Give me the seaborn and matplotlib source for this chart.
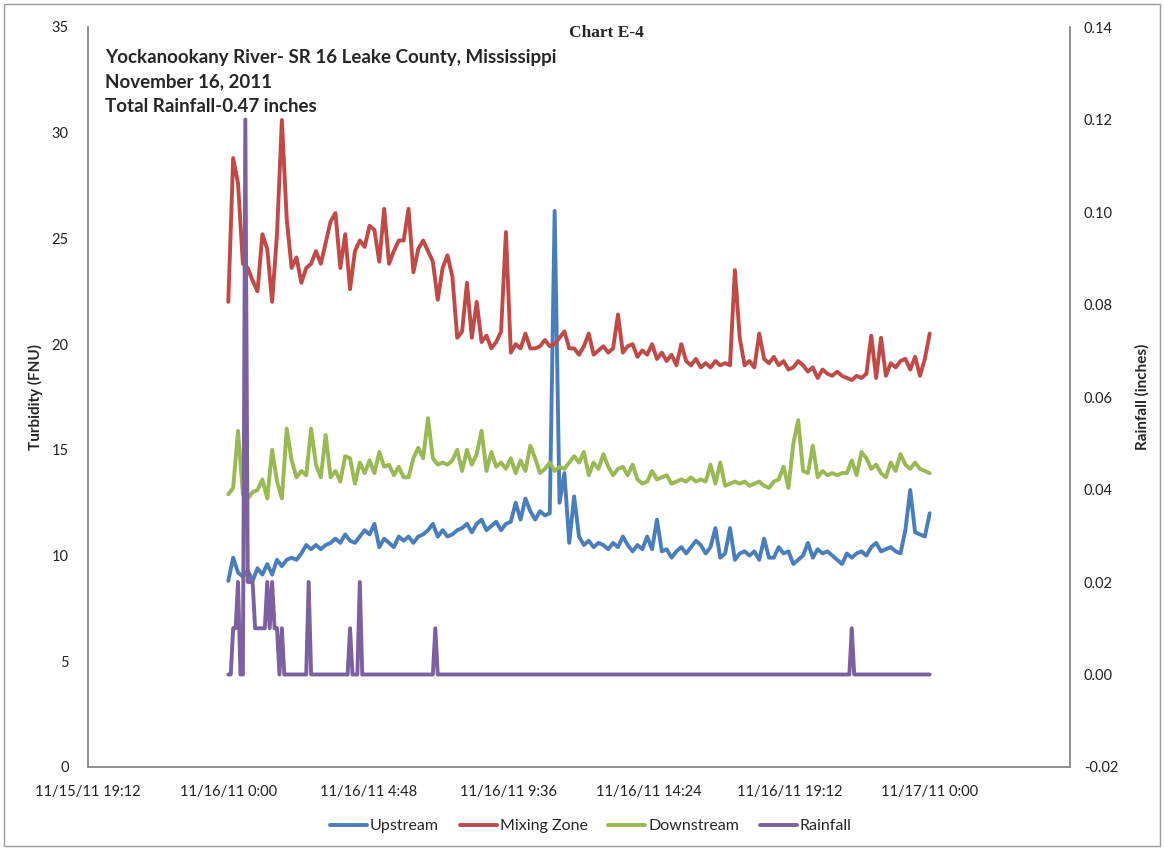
import numpy as np
import pandas as pd
import matplotlib
matplotlib.use("Agg")
import matplotlib.pyplot as plt
from matplotlib.lines import Line2D
from matplotlib.patches import Rectangle
import seaborn as sns

# ---- data: turbidity logged every 10 minutes on 11/16/2011 ----
start = pd.Timestamp("2011-11-16 00:00")
turb_times = pd.date_range(start, periods=145, freq="10min")

upstream = [
    8.8, 9.9, 9.2, 9.0, 9.3, 8.8, 9.4, 9.1, 9.6, 9.1,
    9.8, 9.5, 9.8, 9.9, 9.8, 10.1, 10.5, 10.3, 10.5, 10.3,
    10.5, 10.6, 10.8, 10.6, 11.0, 10.7, 10.6, 10.9, 11.2, 11.0,
    11.5, 10.4, 10.8, 10.6, 10.4, 10.9, 10.7, 10.9, 10.6, 10.9,
    11.0, 11.2, 11.5, 10.9, 11.2, 10.9, 11.0, 11.2, 11.3, 11.5,
    11.1, 11.5, 11.7, 11.2, 11.4, 11.6, 11.2, 11.5, 11.6, 12.5,
    11.7, 12.7, 12.1, 11.7, 12.1, 11.9, 12.0, 26.3, 12.5, 13.9,
    10.6, 12.8, 10.9, 10.5, 10.7, 10.4, 10.6, 10.5, 10.3, 10.6,
    10.4, 10.9, 10.5, 10.2, 10.5, 10.3, 10.9, 10.3, 11.7, 10.2,
    10.3, 9.9, 10.2, 10.4, 10.1, 10.4, 10.7, 10.5, 10.1, 10.4,
    11.3, 9.9, 10.1, 11.3, 9.8, 10.1, 10.2, 10.0, 10.2, 9.8,
    10.8, 9.9, 9.9, 10.4, 10.1, 10.2, 9.6, 9.8, 10.0, 10.6,
    9.9, 10.3, 10.1, 10.2, 10.0, 9.8, 9.6, 10.1, 9.9, 10.1,
    10.2, 10.0, 10.4, 10.6, 10.2, 10.3, 10.4, 10.2, 10.1, 11.2,
    13.1, 11.1, 11.0, 10.9, 12.0,
]

mixing_zone = [
    22.0, 28.8, 27.6, 23.8, 23.6, 23.0, 22.5, 25.2, 24.5, 22.0,
    25.2, 30.6, 25.9, 23.6, 24.1, 22.9, 23.6, 23.8, 24.4, 23.8,
    24.8, 25.8, 26.2, 23.6, 25.2, 22.6, 24.4, 24.9, 24.6, 25.6,
    25.4, 23.9, 26.4, 23.8, 24.4, 24.9, 24.9, 26.4, 23.4, 24.5,
    24.9, 24.4, 23.9, 22.1, 23.6, 24.2, 23.2, 20.3, 20.6, 22.9,
    20.3, 22.0, 20.1, 20.4, 19.8, 20.1, 20.6, 25.3, 19.6, 20.0,
    19.8, 20.5, 19.8, 19.8, 19.9, 20.2, 19.9, 20.0, 20.3, 20.6,
    19.8, 19.8, 19.5, 19.9, 20.5, 19.5, 19.7, 19.9, 19.6, 19.8,
    21.4, 19.6, 19.9, 20.0, 19.4, 19.7, 19.5, 20.0, 19.3, 19.6,
    19.2, 19.5, 19.0, 20.0, 19.2, 19.0, 19.3, 18.9, 19.1, 18.9,
    19.2, 19.0, 19.1, 19.0, 23.5, 20.3, 19.0, 19.2, 18.9, 20.5,
    19.3, 19.1, 19.4, 19.0, 19.2, 18.8, 18.9, 19.2, 19.0, 18.7,
    18.9, 18.4, 18.8, 18.6, 18.5, 18.7, 18.5, 18.4, 18.3, 18.5,
    18.4, 18.6, 20.4, 18.4, 20.3, 18.5, 19.1, 18.9, 19.2, 19.3,
    18.8, 19.4, 18.5, 19.3, 20.5,
]

downstream = [
    12.9, 13.2, 15.9, 12.9, 12.7, 13.0, 13.1, 13.6, 12.7, 15.0,
    13.5, 12.7, 16.0, 14.5, 13.7, 14.0, 13.8, 16.0, 14.3, 13.7,
    15.7, 13.7, 14.0, 13.5, 14.7, 14.6, 13.4, 14.4, 13.9, 14.5,
    13.9, 14.9, 14.2, 14.3, 13.8, 14.2, 13.7, 13.7, 14.6, 15.1,
    14.6, 16.5, 14.6, 14.3, 14.4, 14.3, 14.5, 15.0, 14.0, 15.0,
    14.3, 14.8, 15.9, 14.0, 14.9, 14.2, 14.4, 14.1, 14.6, 13.9,
    14.5, 14.0, 15.2, 14.6, 13.9, 14.1, 14.4, 14.0, 14.2, 14.1,
    14.4, 14.7, 14.4, 14.9, 13.8, 14.4, 14.1, 14.8, 14.2, 13.8,
    14.1, 14.2, 13.8, 14.3, 13.6, 13.4, 13.5, 14.0, 13.6, 13.7,
    13.8, 13.4, 13.5, 13.6, 13.5, 13.7, 13.5, 13.6, 13.5, 14.3,
    13.4, 14.4, 13.3, 13.4, 13.5, 13.4, 13.5, 13.3, 13.4, 13.5,
    13.3, 13.2, 13.5, 13.6, 14.2, 13.2, 15.3, 16.4, 14.0, 13.9,
    15.2, 13.7, 14.0, 13.8, 13.9, 13.8, 13.9, 13.9, 14.5, 13.8,
    14.9, 14.6, 14.1, 14.3, 13.9, 13.7, 14.4, 14.0, 14.8, 14.3,
    14.1, 14.4, 14.1, 14.0, 13.9,
]

# rainfall readings (minutes after midnight, inches)
rain_minutes = [0, 5, 10, 15, 20, 25, 30, 35, 40, 45, 50, 55, 60, 65, 70,
                75, 80, 85, 90, 95, 100, 105, 110, 115, 160, 165, 170,
                245, 250, 255, 265, 270, 275, 420, 425, 430,
                1275, 1280, 1285, 1440]
rainfall = [0.0, 0.0, 0.01, 0.01, 0.02, 0.0, 0.0, 0.12, 0.02, 0.02, 0.02,
            0.01, 0.01, 0.01, 0.01, 0.01, 0.02, 0.01, 0.02, 0.01, 0.01,
            0.0, 0.01, 0.0, 0.0, 0.02, 0.0,
            0.0, 0.01, 0.0, 0.0, 0.02, 0.0, 0.0, 0.01, 0.0,
            0.0, 0.01, 0.0, 0.0]

series_names = ["Upstream", "Mixing Zone", "Downstream"]
series_colors = ["#4A7EBB", "#BE4B48", "#98B954"]
rain_color = "#7D60A0"

title_main = "Chart E-4"
subtitle_lines = ["Yockanookany River- SR 16 Leake County, Mississippi",
                  "November 16, 2011",
                  "Total Rainfall-0.47 inches"]

# ---- assemble long-form tables ----
turb = pd.DataFrame({"time": turb_times,
                     "Upstream": upstream,
                     "Mixing Zone": mixing_zone,
                     "Downstream": downstream})
turb_long = turb.melt(id_vars="time", var_name="series", value_name="turbidity")
rain = pd.DataFrame({"time": start + pd.to_timedelta(rain_minutes, unit="min"),
                     "rain": rainfall})

# ---- styling ----
sns.set_theme(style="white")
plt.rcParams["font.family"] = ["Lato", "DejaVu Sans"]

W, H = 1164, 850
fig = plt.figure(figsize=(W / 100, H / 100), dpi=100)
ax = fig.add_axes([88 / W, 1 - 767 / H, (1070 - 88) / W, (767 - 27) / H])
ax2 = ax.twinx()

lw = 2.8
sns.lineplot(data=turb_long, x="time", y="turbidity", hue="series",
             hue_order=series_names, palette=series_colors, linewidth=lw,
             ax=ax, legend=False, estimator=None, sort=False)
sns.lineplot(data=rain, x="time", y="rain", color=rain_color, linewidth=lw,
             ax=ax2, legend=False, estimator=None, sort=False)
ax2.set_zorder(ax.get_zorder() + 1)
ax2.patch.set_visible(False)

# x axis: 4.8 hour steps
x0 = pd.Timestamp("2011-11-15 19:12")
ticks = pd.date_range(x0, periods=8, freq="288min")
ax.set_xlim(ticks[0], ticks[-1])
ax.set_xticks(ticks[:-1])
ax.set_xticklabels([f"{t.month}/{t.day}/{t:%y} {t.hour}:{t:%M}" for t in ticks[:-1]])

ax.set_ylim(0, 35)
ax.set_yticks(np.arange(0, 36, 5))
rain_ticks = np.round(np.arange(-0.02, 0.1401, 0.02), 2)
ax2.set_ylim(-0.02, 0.14)
ax2.set_yticks(rain_ticks)
ax2.set_yticklabels([f"{v:.2f}" for v in rain_ticks])

ax.set_xlabel("")
ax.set_ylabel("Turbidity (FNU)", fontsize=11, fontweight="bold", labelpad=6)
ax2.set_ylabel("Rainfall (inches)", fontsize=11, fontweight="bold", labelpad=12)

spine_c = "#8C8C8C"
for a in (ax, ax2):
    a.spines["top"].set_visible(False)
    for s in ("left", "right", "bottom"):
        a.spines[s].set_color(spine_c)
        a.spines[s].set_linewidth(1.1)
    a.tick_params(axis="both", labelsize=10.5, colors="#222222", length=0)
    a.grid(False)
ax.tick_params(axis="y", pad=14)
ax.tick_params(axis="x", pad=13)
ax2.tick_params(axis="y", pad=10)

# headings
fig.text(606 / W, 1 - 33 / H, title_main, ha="center", va="center",
         fontsize=12.5, fontweight="bold", family=["Liberation Serif", "DejaVu Serif"])
for k, line in enumerate(subtitle_lines):
    fig.text(105 / W, 1 - (58 + 24 * k) / H, line, ha="left", va="center",
             fontsize=13.5, fontweight="bold")

# legend along the bottom
handles = [Line2D([0], [0], color=c, lw=lw) for c in series_colors + [rain_color]]
labels = series_names + ["Rainfall"]
fig.legend(handles, labels, loc="center", bbox_to_anchor=(591 / W, 1 - 826 / H),
           ncol=4, frameon=False, fontsize=11.5, handlelength=2.3,
           handletextpad=0.2, columnspacing=1.3)

# outer chart border
fig.patches.append(Rectangle((4 / W, 4 / H), 1 - 8 / W, 1 - 8 / H,
                             transform=fig.transFigure, fill=False,
                             edgecolor="#9A9A9A", linewidth=1.0))

fig.savefig("out.png", dpi=100)
